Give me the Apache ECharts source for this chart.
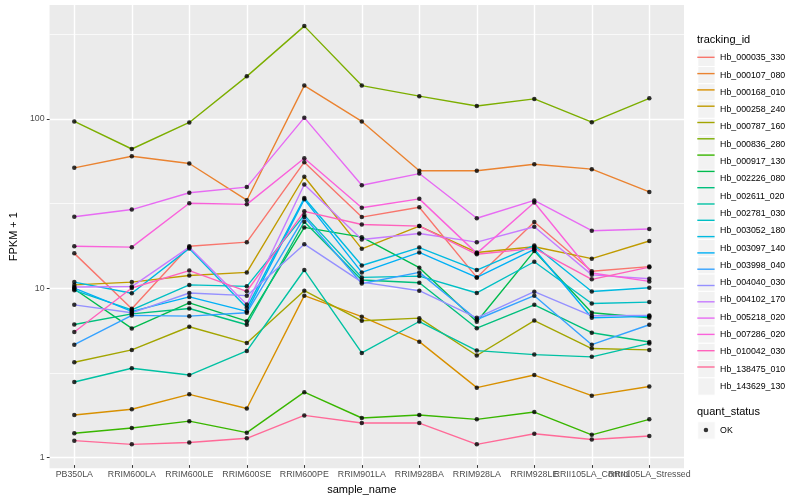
<!DOCTYPE html>
<html><head><meta charset="utf-8">
<script src="https://cdn.jsdelivr.net/npm/echarts@6/dist/echarts.min.js"></script>
<style>html,body{margin:0;padding:0;background:#fff}#c{width:800px;height:500px}</style>
</head><body><div id="c"></div>
<script>
const categories = ['PB350LA','RRIM600LA','RRIM600LE','RRIM600SE','RRIM600PE','RRIM901LA','RRIM928BA','RRIM928LA','RRIM928LE','RRII105LA_Control','RRII105LA_Stressed'];
const trackingIds = ['Hb_000035_330','Hb_000107_080','Hb_000168_010','Hb_000258_240','Hb_000787_160','Hb_000836_280','Hb_000917_130','Hb_002226_080','Hb_002611_020','Hb_002781_030','Hb_003052_180','Hb_003097_140','Hb_003998_040','Hb_004040_030','Hb_004102_170','Hb_005218_020','Hb_007286_020','Hb_010042_030','Hb_138475_010','Hb_143629_130'];

const hb_000035_330 = [15.7, 7.35, 17.3, 18.3, 54.7, 25.8, 29.5, 11.3, 24.1, 12.3, 13.1];
const hb_000107_080 = [50.6, 59.3, 53.7, 32.5, 156, 95.5, 48.6, 48.6, 53.2, 49.7, 36.4];
const hb_000168_010 = [1.72, 1.86, 2.28, 1.88, 8.8, 6.6, 4.69, 2.50, 2.97, 2.24, 2.54];
const hb_000258_240 = [10.2, 10.6, 11.6, 12.1, 44.8, 16.7, 22.8, 15.9, 17.2, 14.6, 18.6];
const hb_000787_160 = [3.54, 4.19, 5.75, 4.61, 9.42, 6.24, 6.47, 3.88, 6.26, 4.27, 4.19];
const hb_000836_280 = [95.5, 65.5, 94.2, 177, 352, 156, 135, 118, 130, 94.6, 131];
const hb_000917_130 = [1.34, 1.44, 1.58, 1.35, 2.35, 1.65, 1.72, 1.62, 1.79, 1.31, 1.62];
const hb_002226_080 = [9.64, 5.62, 7.97, 6.21, 22.4, 19.6, 12.9, 6.16, 16.2, 6.96, 6.50];
const hb_002611_020 = [5.93, 6.86, 7.38, 5.91, 24.2, 10.9, 10.5, 5.64, 7.76, 5.30, 4.67];
const hb_002781_030 = [2.70, 3.26, 2.97, 4.13, 12.5, 4.02, 6.18, 4.15, 3.93, 3.81, 4.58];
const hb_003052_180 = [9.47, 7.25, 10.2, 10.0, 26.5, 11.3, 11.5, 9.13, 14.0, 7.91, 8.06];
const hb_003097_140 = [10.6, 9.09, 16.8, 7.45, 33.5, 13.3, 17.0, 12.5, 17.5, 9.32, 9.81];
const hb_003998_040 = [9.77, 7.10, 8.65, 7.10, 32.9, 12.1, 15.9, 11.3, 16.6, 6.50, 6.63];
const hb_004040_030 = [4.50, 6.72, 6.65, 6.96, 25.8, 10.4, 12.1, 6.35, 8.8, 4.50, 5.91];
const hb_004102_170 = [7.76, 6.96, 9.13, 8.8, 17.8, 10.6, 9.42, 6.50, 9.29, 6.68, 6.72];
const hb_005218_020 = [9.91, 9.97, 17.1, 7.79, 40.3, 19.0, 20.6, 18.3, 22.6, 11.7, 11.1];
const hb_007286_020 = [25.9, 28.6, 36.0, 38.9, 100.6, 39.9, 46.8, 25.4, 32.4, 21.4, 21.9];
const hb_010042_030 = [17.3, 17.1, 31.2, 30.7, 57.7, 29.3, 33.1, 15.7, 31.5, 12.0, 10.7];
const hb_138475_010 = [5.35, 9.77, 12.4, 9.34, 27.9, 23.3, 22.8, 15.5, 16.8, 11.0, 13.0];
const hb_143629_130 = [1.21, 1.15, 1.18, 1.25, 1.71, 1.54, 1.54, 1.15, 1.33, 1.23, 1.29];

const seriesValues = [hb_000035_330, hb_000107_080, hb_000168_010, hb_000258_240, hb_000787_160,
  hb_000836_280, hb_000917_130, hb_002226_080, hb_002611_020, hb_002781_030, hb_003052_180,
  hb_003097_140, hb_003998_040, hb_004040_030, hb_004102_170, hb_005218_020, hb_007286_020,
  hb_010042_030, hb_138475_010, hb_143629_130];

const yTickLabels = [1, 10, 100];
const yMinorBreaks = [3.16228, 31.6228, 316.228];
const yMin = 0.866, yMax = 470;

// ggplot2 hue palette (HCL, c=100, l=65)
function hcl(h, c, l) {
  const hr = h * Math.PI / 180;
  const U = c * Math.cos(hr), V = c * Math.sin(hr);
  const Xn = 95.047, Yn = 100, Zn = 108.883;
  const Y = Yn * (l > 7.999592 ? Math.pow((l + 16) / 116, 3) : l / 903.3);
  const t = Xn + 15 * Yn + 3 * Zn;
  const un = 4 * Xn / t, vn = 9 * Yn / t;
  const u = U / (13 * l) + un, v = V / (13 * l) + vn;
  const X = 9 * Y * u / (4 * v);
  const Z = -X / 3 - 5 * Y + 3 * Y / v;
  const x = X / 100, y = Y / 100, z = Z / 100;
  const lin = [3.240479 * x - 1.537150 * y - 0.498535 * z,
              -0.969256 * x + 1.875992 * y + 0.041556 * z,
               0.055648 * x - 0.204043 * y + 1.057311 * z];
  const out = lin.map(q => {
    let g = q > 0.00304 ? 1.055 * Math.pow(q, 1 / 2.4) - 0.055 : 12.92 * q;
    g = Math.max(0, Math.min(1, g));
    return Math.round(g * 255).toString(16).padStart(2, '0');
  });
  return '#' + out.join('');
}
const n = trackingIds.length;
const colors = trackingIds.map((_, i) => hcl(15 + i * 360 / n, 100, 65));

const FONT = "'Liberation Sans', Arial, Helvetica, sans-serif";

const lineSeries = trackingIds.map((name, i) => ({
  name: name,
  type: 'line',
  xAxisIndex: 1,
  yAxisIndex: 1,
  data: seriesValues[i],
  color: colors[i],
  showSymbol: false,
  symbol: 'none',
  lineStyle: { width: 1.4, color: colors[i] },
  silent: true,
  z: 2
}));

const pointData = [];
seriesValues.forEach(vals => vals.forEach((v, j) => pointData.push([j, v])));

const option = {
  animation: false,
  backgroundColor: '#ffffff',
  textStyle: { fontFamily: FONT },
  title: [
    { text: 'tracking_id', left: 697, top: 34, padding: 0,
      textStyle: { fontSize: 11, fontWeight: 'normal', color: '#000', fontFamily: FONT } },
    { text: 'quant_status', left: 697, top: 406, padding: 0,
      textStyle: { fontSize: 11, fontWeight: 'normal', color: '#000', fontFamily: FONT } }
  ],
  grid: [
    { left: 40, top: 5, width: 644, height: 463.3, show: true, backgroundColor: '#EBEBEB', borderWidth: 0, containLabel: false },
    { left: 74.3, top: 5, width: 575, height: 463.3, show: false, containLabel: false }
  ],
  xAxis: [
    { type: 'value', gridIndex: 0, min: 0, max: 1, show: false },
    { type: 'category', gridIndex: 1, data: categories, boundaryGap: false,
      name: 'sample_name', nameLocation: 'middle', nameGap: 15,
      nameTextStyle: { fontSize: 11, color: '#000', fontFamily: FONT },
      axisLine: { show: false },
      axisTick: { show: true, length: 2.75, interval: 0, lineStyle: { color: '#333333', width: 1 } },
      axisLabel: { interval: 0, fontSize: 8.8, color: '#4D4D4D', margin: 5, fontFamily: FONT, hideOverlap: false },
      splitLine: { show: true, interval: 0, lineStyle: { color: '#ffffff', width: 1.4 } }
    }
  ],
  yAxis: [
    { type: 'log', logBase: 10, gridIndex: 0, min: yMin, max: yMax,
      name: 'FPKM + 1', nameLocation: 'middle', nameGap: 24, nameRotate: 90,
      nameTextStyle: { fontSize: 11, color: '#000', fontFamily: FONT },
      axisLine: { show: false },
      axisTick: { show: true, length: 2.75, customValues: yTickLabels, lineStyle: { color: '#333333', width: 1 } },
      axisLabel: { fontSize: 8.8, color: '#4D4D4D', margin: 5, fontFamily: FONT, customValues: yTickLabels,
        formatter: v => String(Math.round(v)) },
      splitLine: { show: true, lineStyle: { color: '#ffffff', width: 1.4 } },
      z: 1
    },
    { type: 'log', logBase: 10, gridIndex: 1, min: yMin, max: yMax, show: false,
      splitLine: { show: false } },
    { type: 'log', logBase: 10, gridIndex: 0, min: yMin, max: yMax,
      axisLine: { show: false },
      axisTick: { show: false, customValues: yMinorBreaks },
      axisLabel: { show: false, customValues: yMinorBreaks },
      splitLine: { show: true, lineStyle: { color: '#ffffff', width: 0.7 } },
      z: 0
    }
  ],
  legend: [
    { orient: 'vertical', left: 697.3, top: 48.65, padding: 0, itemGap: -1,
      itemWidth: 17.3, itemHeight: 17.3, icon: 'rect', selectedMode: false,
      itemStyle: { color: '#F2F2F2', borderColor: '#ffffff', borderWidth: 1 },
      textStyle: { fontSize: 8.8, color: '#000', lineHeight: 17.3, fontFamily: FONT },
      data: trackingIds },
    { orient: 'vertical', left: 697.3, top: 48.65, padding: 0, itemGap: -1,
      itemWidth: 17.3, itemHeight: 1.4, icon: 'path://M0,0H173V14H0Z', symbolKeepAspect: false, selectedMode: false,
      textStyle: { fontSize: 8.8, color: 'rgba(0,0,0,0)', lineHeight: 17.3, fontFamily: FONT },
      data: trackingIds.map((nm, i) => ({ name: nm, itemStyle: { color: colors[i] } })) },
    { orient: 'vertical', left: 697.3, top: 421.3, padding: 0, itemGap: 0,
      itemWidth: 17.3, itemHeight: 17.3, icon: 'rect', selectedMode: false,
      itemStyle: { color: '#F2F2F2', borderColor: '#ffffff', borderWidth: 1 },
      textStyle: { fontSize: 8.8, color: '#000', lineHeight: 17.3, fontFamily: FONT },
      data: ['OK'] },
    { orient: 'vertical', left: 703.7, top: 421.3, padding: 0, itemGap: 0,
      itemWidth: 4.5, itemHeight: 4.5, icon: 'circle', selectedMode: false,
      itemStyle: { color: '#000' },
      textStyle: { fontSize: 8.8, color: 'rgba(0,0,0,0)', lineHeight: 17.3, fontFamily: FONT },
      data: ['OK'] }
  ],
  series: lineSeries.concat([{
    name: 'OK',
    type: 'scatter',
    xAxisIndex: 1,
    yAxisIndex: 1,
    data: pointData,
    symbol: 'circle',
    symbolSize: 4.5,
    itemStyle: { color: '#000000' },
    silent: true,
    z: 5
  }])
};

const chart = echarts.init(document.getElementById('c'), null, { renderer: 'canvas' });
chart.setOption(option);
</script>
</body></html>
